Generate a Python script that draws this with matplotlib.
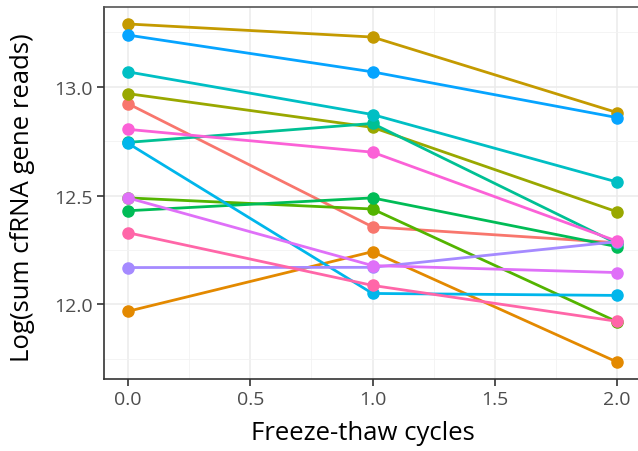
import matplotlib
matplotlib.use("Agg")
import matplotlib.pyplot as plt
from matplotlib.ticker import MultipleLocator

cycles = [0, 1, 2]
colors = ["#F8766D", "#E38900", "#C49A00", "#99A800", "#53B400", "#00BC56", "#00C094",
          "#00BFC4", "#00B6EB", "#06A4FF", "#A58AFF", "#DF70F8", "#FB61D7", "#FF66A8"]
salmon = [12.922, 12.356, 12.283]
orange = [11.968, 12.242, 11.735]
gold = [13.288, 13.228, 12.881]
olive = [12.968, 12.813, 12.425]
lime = [12.489, 12.438, 11.920]
green = [12.430, 12.489, 12.265]
tealgreen = [12.744, 12.831, 12.280]
cyan = [13.068, 12.872, 12.562]
skyblue = [12.740, 12.050, 12.041]
blue = [13.237, 13.068, 12.858]
lavender = [12.169, 12.170, 12.288]
violet = [12.489, 12.178, 12.146]
magenta = [12.804, 12.699, 12.290]
hotpink = [12.329, 12.087, 11.922]
series = [salmon, orange, gold, olive, lime, green, tealgreen, cyan, skyblue, blue,
          lavender, violet, magenta, hotpink]

plt.rcParams['font.family'] = ['Open Sans', 'DejaVu Sans']
fig = plt.figure(figsize=(6.38, 4.52), dpi=100)
W, H = 638, 452
ax = fig.add_axes([103.5 / W, 1 - 380 / H, 538 / W, 372 / H])

for ys, c in zip(series, colors):
    ax.plot(cycles, ys, color=c, lw=2, marker='o', ms=8, zorder=3)

ax.set_xlim(-0.1, 2.1)
ax.set_ylim(11.657, 13.366)
ax.xaxis.set_minor_locator(MultipleLocator(0.25))
ax.yaxis.set_minor_locator(MultipleLocator(0.25))
ax.set_xticks([0, 0.5, 1.0, 1.5, 2.0])
ax.set_xticklabels(["0.0", "0.5", "1.0", "1.5", "2.0"])
ax.set_yticks([12.0, 12.5, 13.0])
ax.set_yticklabels(["12.0", "12.5", "13.0"])
ax.grid(which='major', color='#EBEBEB', lw=1.1, zorder=0)
ax.grid(which='minor', color='#F2F2F2', lw=0.6, zorder=0)
ax.set_axisbelow(True)
ax.tick_params(which='major', length=5, width=1.2, color='#333333', labelsize=14,
               labelcolor='#4D4D4D', pad=3)
ax.tick_params(which='minor', length=0)
for s in ax.spines.values():
    s.set_color('#333333')
    s.set_linewidth(1.2)
ax.spines['top'].set_color('#555555')
ax.set_xlabel("Freeze-thaw cycles", fontsize=18.5, color='black')
ax.set_ylabel("Log(sum cfRNA gene reads)", fontsize=18.5, color='black')
ax.xaxis.set_label_coords(0.483, -0.111)
ax.yaxis.set_label_coords(-0.127, 0.49)

fig.savefig("out.png", dpi=100)
